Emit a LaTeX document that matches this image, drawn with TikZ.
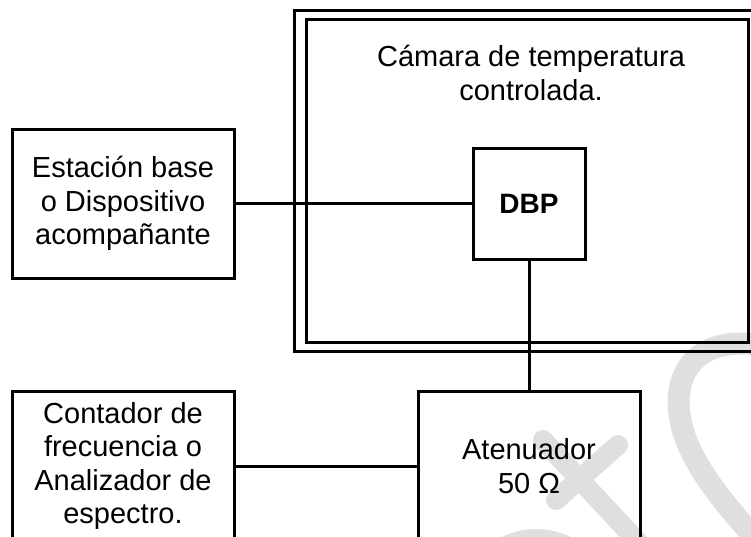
\documentclass[tikz,border=0pt]{standalone}
\usepackage{fontspec}
\setmainfont{Liberation Sans}
\usetikzlibrary{positioning}

\begin{document}
\begin{tikzpicture}[
                    x=1pt, y=1pt,
                    node distance=406pt,
                    block/.style={draw, line width=3pt, inner sep=0pt,
                                  minimum width=222pt, minimum height=149pt,
                                  align=center, font=\fontsize{29}{33.5}\selectfont},
                    wire/.style={line width=3pt},
                    wmark/.style={draw=gray!25, line width=20pt, line cap=round}
                ]
                \useasboundingbox (0,0) rectangle (751,-536);
                \clip (0,0) rectangle (751,-536);

                % watermark in the background
                \draw[wmark] (543,-440) -- (650,-555);
                \draw[wmark] (618,-445) -- (556,-500);
                \draw[wmark, line width=22pt] (775,-348) .. controls (700,-330) and (675,-370) .. (679,-410)
                      .. controls (683,-460) and (730,-510) .. (770,-555);
                \draw[wmark] (485,-565) .. controls (505,-535) and (550,-530) .. (580,-555);

                % chamber walls
                \draw[line width=3pt] (294,-10) rectangle (770,-351);
                \draw[line width=3pt] (306,-19) rectangle (748,-342);
                \node (cam) [align=center, font=\fontsize{29}{33.5}\selectfont] at (531,-73)
                      {Cámara de temperatura\\controlada.};

                \node (DBP) [block, minimum width=112pt, minimum height=111pt,
                             font=\fontsize{28}{31}\selectfont\bfseries] at (529,-203.5) {DBP};
                \node (EB) [block, left of=DBP] {Estación base\\o Dispositivo\\acompañante};
                \node (AT) [block, below of=DBP, node distance=262.5pt] {Atenuador\\50 Ω};
                \node (CF) [block, left of=AT] {Contador de\\frecuencia o\\Analizador de\\espectro.};

                \path[wire]
                (EB) edge (DBP)
                (DBP) edge (AT)
                (CF) edge (AT)
                ;
\end{tikzpicture}
\end{document}
